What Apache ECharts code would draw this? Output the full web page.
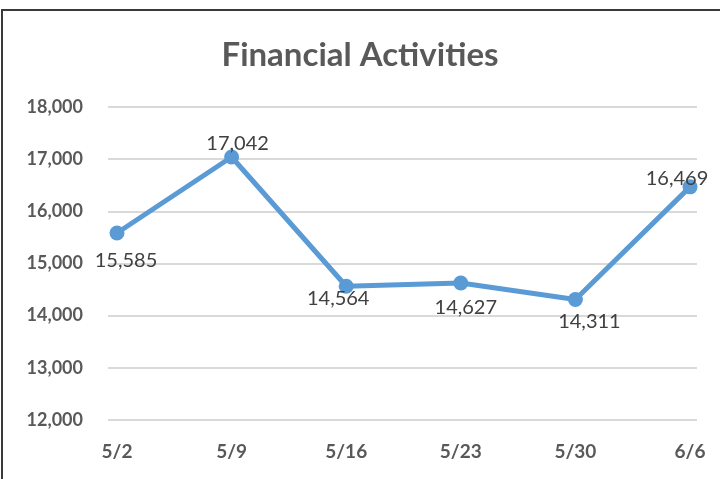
<!DOCTYPE html>
<html><head><meta charset="utf-8">
<script src="https://cdn.jsdelivr.net/npm/echarts@6/dist/echarts.min.js"></script>
<style>html,body{margin:0;padding:0;background:#fff}#c{width:720px;height:479px}</style>
</head><body><div id="c"></div>
<script>
const title = "Financial Activities";
const categories = ["5/2","5/9","5/16","5/23","5/30","6/6"];
const values = [15585, 17042, 14564, 14627, 14311, 16469];
const yTicks = [12000, 13000, 14000, 15000, 16000, 17000, 18000];

const FONT = "Lato";
// label placement per point (Excel style)
const labelPlace = [
  {position:'bottom', offset:[9, 5]},
  {position:'top', offset:[6, 9]},
  {position:'bottom', offset:[-8, -10]},
  {position:'bottom', offset:[5, 2]},
  {position:'bottom', offset:[14, 0]},
  {position:'top', offset:[-13, 14]}
];

const chart = echarts.init(document.getElementById('c'));
chart.setOption({
  animation: false,
  title: {
    text: title, left: 'center', top: 34,
    textStyle: {fontFamily: FONT, fontWeight: 'bold', fontSize: 33, color: '#595959'}
  },
  graphic: [{
    type: 'rect', shape: {x: 2, y: 10, width: 740, height: 490},
    style: {fill: 'none', stroke: '#3a3a3a', lineWidth: 2}, silent: true, z: 100
  }],
  grid: {left: 108, right: 23, top: 107, bottom: 59, containLabel: false},
  xAxis: {
    type: 'value', min: -0.0785, max: 5.061,
    axisLine: {show: false}, axisTick: {show: false}, splitLine: {show: false},
    axisLabel: {
      customValues: categories.map((c, i) => i),
      formatter: v => categories[Math.round(v)],
      fontFamily: FONT, fontWeight: 'bold', fontSize: 19, color: '#595959', margin: 22
    }
  },
  yAxis: {
    type: 'value', min: yTicks[0], max: yTicks[yTicks.length - 1], interval: 1000,
    axisLine: {show: false}, axisTick: {show: false},
    splitLine: {lineStyle: {color: '#d9d9d9', width: 2}},
    axisLabel: {
      formatter: v => v.toLocaleString('en-US'),
      fontFamily: FONT, fontWeight: 'bold', fontSize: 18, color: '#595959', margin: 25
    }
  },
  series: [{
    type: 'line',
    data: values.map((v, i) => ({
      value: [i, v],
      label: Object.assign({}, labelPlace[i])
    })),
    symbol: 'circle', symbolSize: 15,
    lineStyle: {color: '#5B9BD5', width: 5},
    itemStyle: {color: '#5B9BD5'},
    label: {
      show: true, formatter: p => p.value[1].toLocaleString('en-US'),
      fontFamily: FONT, fontSize: 20, color: '#404040'
    }
  }]
});
</script></body></html>
